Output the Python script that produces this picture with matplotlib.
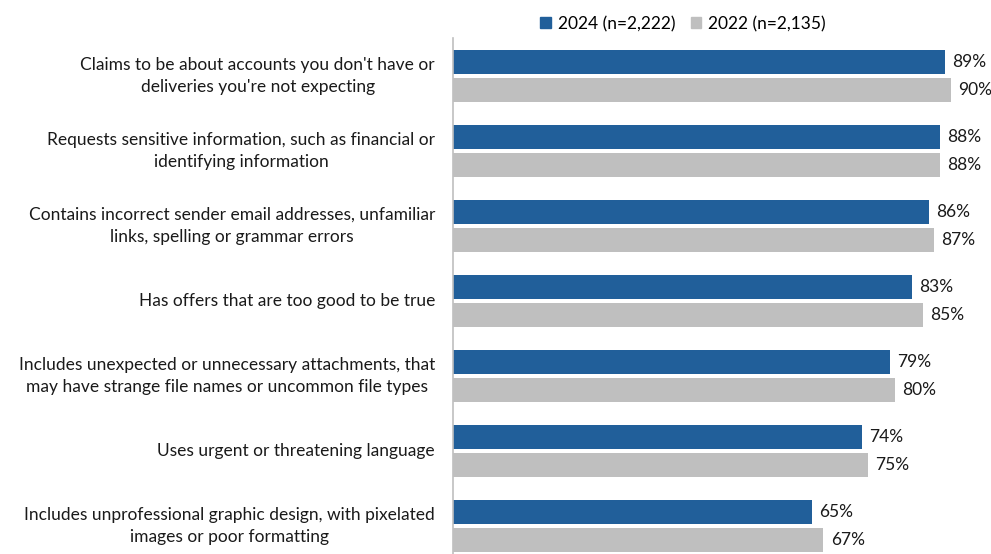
import matplotlib.pyplot as plt
import numpy as np
from matplotlib.patches import Patch

plt.rcParams['font.family'] = ['Lato', 'DejaVu Sans']

categories = [
    "Claims to be about accounts you don't have or\ndeliveries you're not expecting",
    "Requests sensitive information, such as financial or\nidentifying information",
    "Contains incorrect sender email addresses, unfamiliar\nlinks, spelling or grammar errors",
    "Has offers that are too good to be true",
    "Includes unexpected or unnecessary attachments, that\nmay have strange file names or uncommon file types",
    "Uses urgent or threatening language",
    "Includes unprofessional graphic design, with pixelated\nimages or poor formatting",
]
values_2024 = [89, 88, 86, 83, 79, 74, 65]
values_2022 = [90, 88, 87, 85, 80, 75, 67]
series_labels = ["2024 (n=2,222)", "2022 (n=2,135)"]

blue = "#215F9A"
gray = "#BFBFBF"
text_color = "#1a1a1a"

fig = plt.figure(figsize=(9.91, 5.54), dpi=100)
ax = fig.add_axes([453 / 991, 0, 1 - 453 / 991, (554 - 38) / 554])

y = np.arange(len(categories))
h = 0.32
off = 0.187
ax.barh(y - off, values_2024, height=h, color=blue)
ax.barh(y + off, values_2022, height=h, color=gray)

for yi, v in zip(y, values_2024):
    ax.text(v + 1.3, yi - off, f"{v}%", va="center", ha="left", fontsize=12.5, color=text_color)
for yi, v in zip(y, values_2022):
    ax.text(v + 1.3, yi + off, f"{v}%", va="center", ha="left", fontsize=12.5, color=text_color)

# category labels: right-aligned block, lines centred inside it
trans = ax.get_yaxis_transform()
for yi, label in zip(y, categories):
    ax.text(-18 / 538, yi, label, transform=trans, ha="right", va="center",
            multialignment="center", fontsize=12.5, color=text_color, linespacing=1.5)

ax.set_xlim(0, 97.3)
ax.set_ylim(6.373, -0.507)
ax.set_yticks([])
ax.set_xticks([])
for s in ["top", "right", "bottom"]:
    ax.spines[s].set_visible(False)
ax.spines["left"].set_color("#BFBFBF")
ax.spines["left"].set_linewidth(1.2)

handles = [Patch(color=blue), Patch(color=gray)]
fig.legend(handles, series_labels, loc="center", bbox_to_anchor=(683 / 991, 1 - 24 / 554),
           ncol=2, frameon=False, fontsize=12.5, handlelength=0.6, handleheight=0.6,
           handletextpad=0.4, columnspacing=0.9)

fig.savefig("out.png", dpi=100)
